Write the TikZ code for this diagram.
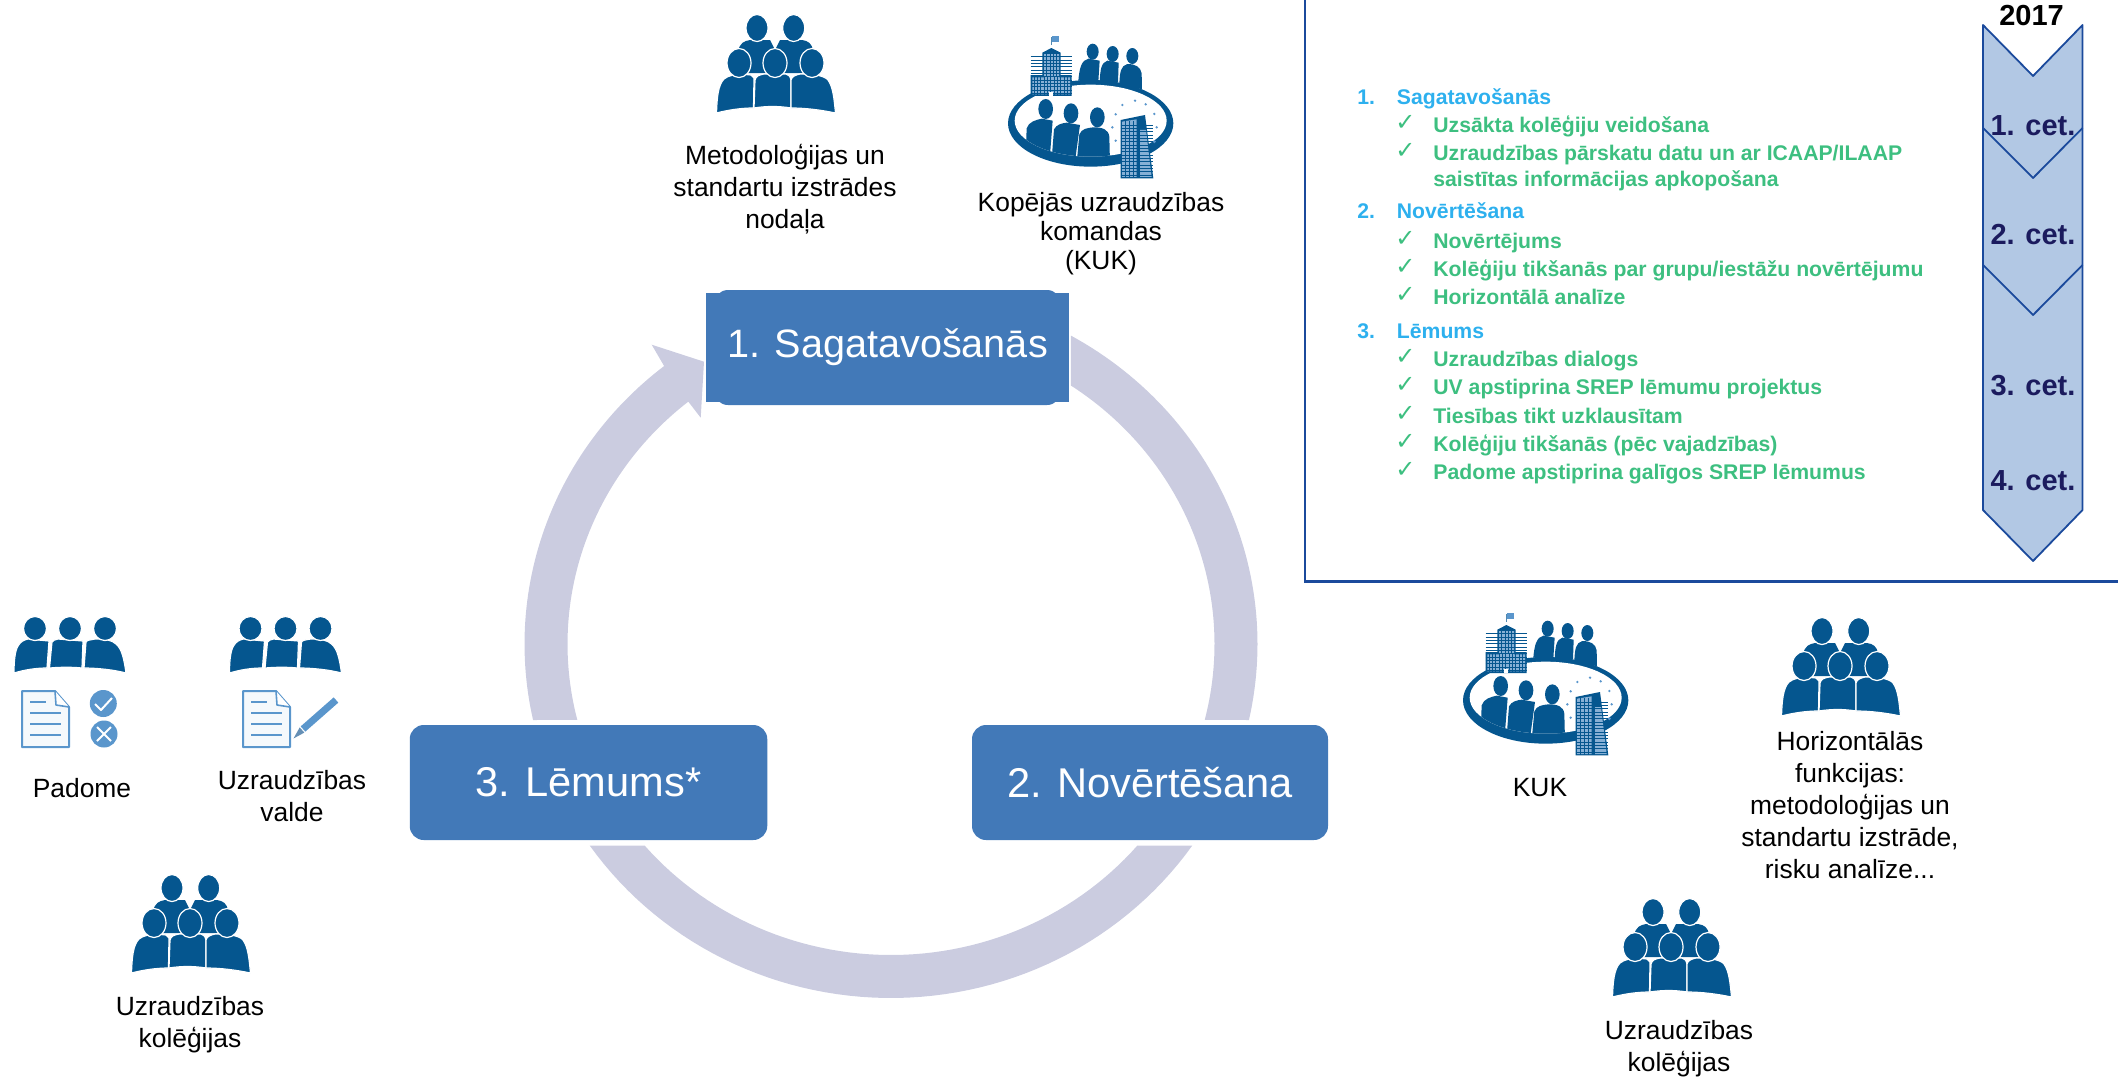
\documentclass[tikz,border=0pt]{standalone}
\usepackage{fontspec}
\setmainfont{Liberation Sans}
\newfontfamily\dejavu{DejaVu Sans}
\definecolor{iconblue}{HTML}{05568F}
\definecolor{docblue}{HTML}{5A96CC}
\definecolor{docfill}{HTML}{F5F9FC}
\definecolor{gridblue}{HTML}{86B0D6}
\definecolor{ringcol}{HTML}{CBCCE0}
\definecolor{boxcol}{HTML}{4279B8}
\definecolor{panelblue}{HTML}{1B4A9C}
\definecolor{chevfill}{HTML}{B2C8E4}
\definecolor{listblue}{HTML}{2DB0EE}
\definecolor{listgreen}{HTML}{3DBF80}
\definecolor{navytext}{HTML}{1B1B5E}
\tikzset{
  lab/.style={align=center,inner sep=0pt,text=black,font=\fontsize{13.2}{16}\selectfont},
  labtight/.style={lab,font=\fontsize{13.2}{14.5}\selectfont},
  stagebox/.style={fill=boxcol,text=white,inner sep=0pt,font=\fontsize{19.8}{24}\selectfont},
  stageboxb/.style={stagebox,font=\fontsize{20.8}{24}\selectfont},
  chq/.style={anchor=base,inner sep=0pt,text=navytext,font=\fontsize{14.5}{17}\bfseries\selectfont},
  lhead/.style={anchor=base west,inner sep=0pt,text=listblue,font=\fontsize{10.6}{12}\bfseries\selectfont},
  litem/.style={anchor=base west,inner sep=0pt,text=listgreen,font=\fontsize{10.6}{12}\bfseries\selectfont},
  ltick/.style={anchor=base west,inner sep=0pt,text=listgreen,font=\fontsize{12}{12}\dejavu\selectfont},
  halo/.style={fill=iconblue,draw=white,line width=0.6pt},
  teamfive/.pic={
    \fill[iconblue] (-38,-40) -- (-38,-62) .. controls (-36,-70) and (-32,-72) .. (-26,-73) -- (-6,-73) -- (-1,-63) -- (4,-73) -- (26,-73) .. controls (32,-72) and (36,-70) .. (37,-62) -- (37,-40) -- cycle;
    \foreach \hx in {-19,17.7} {\path[halo] (\hx,-85) ellipse [x radius=11,y radius=13.5];}
    \path[halo] (-59.5,0) .. controls (-59,-15) and (-58,-28) .. (-52,-34) .. controls (-47,-38) and (-42,-38) .. (-35,-39) -- (-25,-38) -- (-22,-35) -- (-22.5,-5) .. controls (-35,-5) and (-48,-3) .. cycle;
    \path[halo] (-22,-5) -- (-21,-33) .. controls (-20,-37) and (-17,-38) .. (-12,-39) -- (10,-39) .. controls (13,-38) and (14,-37) .. (15,-33) -- (15,-5) .. controls (3,-7) and (-10,-7) .. cycle;
    \path[halo] (15,-5) -- (15,-33) .. controls (16,-37) and (20,-38) .. (24,-39) .. controls (35,-39) and (48,-38) .. (52,-33) .. controls (57,-26) and (58,-15) .. (59.5,0) .. controls (45,-3) and (30,-5) .. cycle;
    \foreach \hx in {-37,-1,36} {\path[halo] (\hx,-50) ellipse [x radius=12,y radius=14.5];}
  },
  teamthree/.pic={
    \path[halo] (-56,0) .. controls (-56,-12) and (-55,-22) .. (-52,-27) .. controls (-49,-32) and (-46,-33) .. (-42,-34) -- (-21,-32) -- (-23,-5) .. controls (-35,-5) and (-46,-3) .. cycle;
    \path[halo] (-20.5,-5) -- (-18,-31) .. controls (-17,-33) and (-15,-33) .. (-12,-34) -- (13,-32) -- (12,-5) .. controls (3,-6) and (-10,-6) .. cycle;
    \path[halo] (14,-5) -- (16,-31) .. controls (17,-33) and (20,-33) .. (25,-34) .. controls (35,-34) and (42,-33) .. (46,-29) .. controls (52,-24) and (54,-14) .. (56,0) .. controls (45,-3) and (28,-5) .. cycle;
    \foreach \hx in {-35,0,35} {\path[halo] (\hx,-44.5) ellipse [x radius=11.5,y radius=12];}
  },
  docicon/.pic={
    \path[draw=docblue,fill=docfill,line width=1pt,line join=round] (0,0) -- (33,0) -- (47,16) -- (47,56) -- (0,56) -- cycle;
    \path[draw=docblue,fill=white,line width=0.8pt,line join=round] (33,0) -- (34,14) -- (47,16);
    \draw[docblue,line width=1.2pt] (8,11) -- (24,11) (8,22) -- (39,22) (8,33) -- (39,33) (8,44) -- (39,44);
  },
  kukicon/.pic={
    \fill[iconblue] (272,280) ellipse [x radius=248,y radius=130];
    \fill[white] (272,272) ellipse [x radius=228,y radius=108];
    \begin{scope}
      \clip (272,272) ellipse [x radius=228,y radius=108];
      \fill[iconblue] (76,400) -- (80,295) .. controls (86,275) and (108,270) .. (125,266) -- (158,272) -- (148,400) -- cycle;
      \fill[iconblue] (154,400) -- (162,298) .. controls (170,283) and (185,280) .. (200,278) -- (240,285) -- (224,400) -- cycle;
      \fill[iconblue] (230,400) -- (238,313) .. controls (245,296) and (262,294) .. (280,292) .. controls (308,292) and (325,298) .. (328,320) -- (330,400) -- cycle;
      \fill[iconblue] (60,400) rectangle (400,380);
    \end{scope}
    \foreach \hx/\hy in {137/237,213/250,292/262} {\fill[iconblue] (\hx,\hy) ellipse [x radius=22,y radius=30];}
    \fill[iconblue] (235,152) .. controls (238,115) and (245,90) .. (265,86) -- (299,92) -- (295,155) -- cycle;
    \fill[iconblue] (299,155) .. controls (301,120) and (303,98) .. (322,92) -- (356,98) -- (354,158) -- cycle;
    \fill[iconblue] (358,160) .. controls (360,125) and (362,108) .. (382,102) .. controls (405,102) and (422,110) .. (425,130) -- (426,178) -- cycle;
    \foreach \hx/\hy in {278/65,338/72,397/78} {\fill[iconblue] (\hx,\hy) ellipse [x radius=18,y radius=24];}
    \foreach \sx/\sy in {367/225,405/212,437/223,463/252,470/292,347/253,337/292,347/332} {\fill[docblue] (\sx,\sy) circle [radius=4];}
    \fill[docblue] (463,335) circle [radius=5];
    \fill[iconblue!70!white] (152,45) rectangle (155,20);
    \fill[docblue] (155,18) rectangle (178,35);
    \fill[iconblue] (92,198) -- (92,135) -- (127,135) -- (127,68) -- (154,54) -- (182,68) -- (182,135) -- (215,135) -- (215,198) -- cycle;
    \fill[gridblue] (97,193) -- (97,142) -- (132,142) -- (132,72) -- (177,72) -- (177,142) -- (210,142) -- (210,193) -- cycle;
    \foreach \gy in {80,90,...,190} {\draw[iconblue,line width=0.25pt] (92,\gy) -- (215,\gy);}
    \foreach \gx in {102,112,...,205} {\draw[iconblue,line width=0.2pt] (\gx,140) -- (\gx,198);}
    \foreach \gx in {140,150,...,175} {\draw[iconblue,line width=0.2pt] (\gx,70) -- (\gx,140);}
    \fill[white] (148,185) rectangle (160,198);
    \fill[iconblue] (362,445) -- (362,270) -- (435,255) -- (460,445) -- cycle;
    \fill[gridblue] (366,441) -- (366,275) -- (410,268) -- (410,441) -- cycle;
    \fill[gridblue] (420,441) -- (420,300) -- (438,300) -- (455,441) -- cycle;
    \foreach \gy in {285,295,...,435} {\draw[iconblue,line width=0.25pt] (362,\gy) -- (458,\gy);}
    \foreach \gx in {376,388,400} {\draw[iconblue,line width=0.2pt] (\gx,272) -- (\gx,445);}
  },
}
\begin{document}
\begin{tikzpicture}[x=0.5pt,y=-0.5pt]
\useasboundingbox (0,0) rectangle (2118,1077);
% ring segments
\fill[ringcol] plot[domain=-60.6:12.4,samples=60] ({891+366.5*cos(\x)},{644+354*sin(\x)}) -- plot[domain=14.1:-56.2,samples=60] ({891+323.5*cos(\x)},{644+311*sin(\x)}) -- cycle;
\fill[ringcol] plot[domain=34.7:145.3,samples=60] ({891+366.5*cos(\x)},{644+354*sin(\x)}) -- plot[domain=139.6:40.4,samples=60] ({891+323.5*cos(\x)},{644+311*sin(\x)}) -- cycle;
\fill[ringcol] plot[domain=167.6:231.75,samples=60] ({891+366.5*cos(\x)},{644+354*sin(\x)}) -- (651.7,344.7) -- (704,361.7) -- (700.7,417.7) -- plot[domain=231.2:165.9,samples=60] ({891+323.5*cos(\x)},{644+311*sin(\x)}) -- cycle;
% stage boxes
\fill[boxcol,rounded corners=7pt] (714,290) rectangle (1061,405);
\node[stagebox,minimum width=181.5pt,minimum height=54.5pt] (box1) at (887.5,347.5) {1. Sagatavošanās};
\node[stageboxb,rounded corners=7pt,minimum width=178.75pt,minimum height=57.5pt] (box3) at (588.5,782.5) {3. Lēmums*};
\node[stageboxb,rounded corners=7pt,minimum width=178pt,minimum height=57.5pt] (box2) at (1150,782.5) {2. Novērtēšana};
% panel
\draw[panelblue,line width=1.1pt] (1305,0) -- (1305,581.5) -- (2118,581.5);
% chevrons
\path[fill=chevfill,draw=panelblue,line width=0.9pt,line join=round] (1983,25) -- (2033,76) -- (2082.5,25) -- (2082.5,510) -- (2033,561) -- (1983,510) -- cycle;
\draw[panelblue,line width=0.9pt,line join=round] (1983,128) -- (2033,178) -- (2082.5,128);
\draw[panelblue,line width=0.9pt,line join=round] (1983,265) -- (2033,315) -- (2082.5,265);
\node[anchor=base,inner sep=0pt,font=\fontsize{14.5}{17}\bfseries\selectfont] (yr) at (2031.5,25) {2017};
\node[chq] (q1) at (2033,135) {1. cet.};
\node[chq] (q2) at (2033,244) {2. cet.};
\node[chq] (q3) at (2033,395) {3. cet.};
\node[chq] (q4) at (2033,490) {4. cet.};
% list
\node[lhead] (n1) at (1357,104) {1.};
\node[lhead] (h1) at (1396.5,104) {Sagatavošanās};
\node[ltick] (t1) at (1395,130) {✓};
\node[litem] (i1) at (1433,132) {Uzsākta kolēģiju veidošana};
\node[ltick] (t2) at (1395,158) {✓};
\node[litem] (i2) at (1433,160) {Uzraudzības pārskatu datu un ar ICAAP/ILAAP};
\node[litem] (i2b) at (1433,186) {saistītas informācijas apkopošana};
\node[lhead] (n2) at (1357,218) {2.};
\node[lhead] (h2) at (1396.5,218) {Novērtēšana};
\node[ltick] (t3) at (1395,246) {✓};
\node[litem] (i3) at (1433,248) {Novērtējums};
\node[ltick] (t4) at (1395,274) {✓};
\node[litem] (i4) at (1433,276) {Kolēģiju tikšanās par grupu/iestāžu novērtējumu};
\node[ltick] (t5) at (1395,302) {✓};
\node[litem] (i5) at (1433,304) {Horizontālā analīze};
\node[lhead] (n3) at (1357,338) {3.};
\node[lhead] (h3) at (1396.5,338) {Lēmums};
\node[ltick] (t6) at (1395,364) {✓};
\node[litem] (i6) at (1433,366) {Uzraudzības dialogs};
\node[ltick] (t7) at (1395,392) {✓};
\node[litem] (i7) at (1433,394) {UV apstiprina SREP lēmumu projektus};
\node[ltick] (t8) at (1395,421) {✓};
\node[litem] (i8) at (1433,423) {Tiesības tikt uzklausītam};
\node[ltick] (t9) at (1395,449) {✓};
\node[litem] (i9) at (1433,451) {Kolēģiju tikšanās (pēc vajadzības)};
\node[ltick] (t10) at (1395,477) {✓};
\node[litem] (i10) at (1433,479) {Padome apstiprina galīgos SREP lēmumus};
% icons
\pic at (776,113) {teamfive};
\pic at (191,973) {teamfive};
\pic at (1841,716) {teamfive};
\pic at (1672,997) {teamfive};
\pic[scale=0.3333] at (1000,30) {kukicon};
\pic[scale=0.3333] at (1455,607) {kukicon};
\pic at (70,673) {teamthree};
\pic at (285.5,673) {teamthree};
\pic at (22,691) {docicon};
\pic at (243,691) {docicon};
\fill[docblue] (103.3,703.5) circle [radius=13.5];
\draw[white,line width=1pt,line join=round] (95,704) -- (101,710) -- (112,698);
\fill[docblue] (104,734) circle [radius=13.5];
\draw[white,line width=1pt] (97,727) -- (111,741) (111,727) -- (97,741);
\draw[docblue,line width=3.5pt] (303,729) -- (336,700);
\fill[docblue!70!gray] (304.3,732.6) -- (299.7,727.4) -- (293.5,738.5) -- cycle;
% labels
\node[lab] (lmet) at (785,189.5) {Metodoloģijas un\\standartu izstrādes\\nodaļa};
\node[labtight] (lkop) at (1101,233.5) {Kopējās uzraudzības\\komandas\\(KUK)};
\node[lab] (lpad) at (82,788) {Padome};
\node[lab] (lval) at (292,796) {Uzraudzības\\valde};
\node[lab] (lkol1) at (190,1024.5) {Uzraudzības\\kolēģijas};
\node[lab] (lkuk) at (1540,788) {KUK};
\node[lab] (lhor) at (1850,805) {Horizontālās\\funkcijas:\\metodoloģijas un\\standartu izstrāde,\\risku analīze...};
\node[lab] (lkol2) at (1679,1048.5) {Uzraudzības\\kolēģijas};
\end{tikzpicture}
\end{document}
